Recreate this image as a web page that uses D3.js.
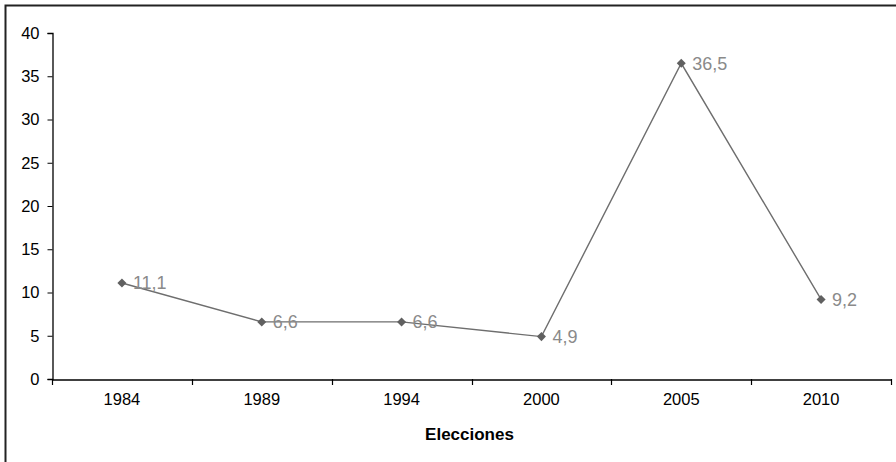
<!DOCTYPE html>
<html><head><meta charset="utf-8">
<script src="https://cdn.jsdelivr.net/npm/d3@7"></script>
<style>body{margin:0;background:#fff}svg{display:block}</style>
</head><body>
<script>
const categories = ["1984","1989","1994","2000","2005","2010"];
const values = [11.1, 6.6, 6.6, 4.9, 36.5, 9.2];
const valueLabels = ["11,1","6,6","6,6","4,9","36,5","9,2"];
const yTicks = [0,5,10,15,20,25,30,35,40];
const xTitle = "Elecciones";

(function(){
const W = 896, H = 462;
const svg = d3.select("body").append("svg").attr("width", W).attr("height", H);
svg.append("rect").attr("x",5.5).attr("y",5.5).attr("width",W).attr("height",H)
  .attr("fill","#fff").attr("stroke","#222").attr("stroke-width",2);

const pL = 52, pR = 891, pT = 33, pB = 379;
const x = d3.scaleBand().domain(categories).range([pL, pR]);
const y = d3.scaleLinear().domain([0,40]).range([pB, pT]);

const font = "Arial, 'Liberation Sans', sans-serif";
// y axis
const ya = svg.append("g").attr("transform",`translate(${pL}.5,0)`)
  .call(d3.axisLeft(y).tickValues(yTicks).tickSize(5).tickPadding(8).tickFormat(d3.format("d")));
ya.select(".domain").attr("stroke","#000").attr("stroke-width",1.3);
ya.selectAll(".tick line").attr("stroke","#000");
ya.selectAll("text").attr("font-family",font).attr("font-size",16.5).attr("fill","#000");

// x axis
const xa = svg.append("g").attr("transform",`translate(0,${pB}.5)`)
  .call(d3.axisBottom(x).tickSize(0).tickPadding(14).tickSizeOuter(0));
xa.select(".domain").attr("stroke","#000").attr("stroke-width",1.3);
xa.selectAll("text").attr("font-family",font).attr("font-size",16.5).attr("fill","#000");
// tick marks between categories
const bounds = categories.map(c => x(c)).concat([x(categories[categories.length-1]) + x.bandwidth()]);
svg.append("g").selectAll("line").data(bounds).join("line")
  .attr("x1", d => Math.round(d)+0.5).attr("x2", d => Math.round(d)+0.5)
  .attr("y1", pB).attr("y2", pB+6).attr("stroke","#000").attr("stroke-width",1.2);

svg.append("text").attr("x", (pL+pR)/2 - 2).attr("y", 440)
  .attr("text-anchor","middle").attr("font-family",font).attr("font-weight","bold")
  .attr("font-size",17).attr("fill","#000").text(xTitle);

const cx = c => x(c) + x.bandwidth()/2;
const line = d3.line().x((d,i) => cx(categories[i])).y(d => y(d));
svg.append("path").datum(values).attr("d", line).attr("fill","none")
  .attr("stroke","#6e6e6e").attr("stroke-width",1.4);

svg.append("g").selectAll("path").data(values).join("path")
  .attr("transform",(d,i)=>`translate(${cx(categories[i])},${y(d)})`)
  .attr("d", d3.symbol().type(d3.symbolDiamond2).size(52))
  .attr("fill","#606060");

svg.append("g").selectAll("text").data(values).join("text")
  .attr("x",(d,i)=>cx(categories[i]) + 11).attr("y", d => y(d) + 6.5)
  .attr("font-family",font).attr("font-size",18).attr("fill","#8a8a8a")
  .text((d,i)=>valueLabels[i]);
})();
</script>
</body></html>
